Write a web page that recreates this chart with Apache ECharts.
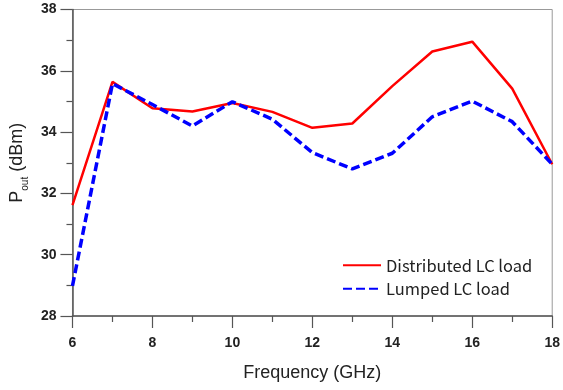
<!DOCTYPE html>
<html><head><meta charset="utf-8">
<script src="https://cdn.jsdelivr.net/npm/echarts@6/dist/echarts.min.js"></script>
<style>html,body{margin:0;padding:0;background:#fff}#c{width:563px;height:390px}</style>
</head><body><div id="c"></div>
<script>
const freq = [6, 7, 8, 9, 10, 11, 12, 13, 14, 15, 16, 17, 18];
const distributed = [31.62, 35.64, 34.78, 34.67, 34.95, 34.66, 34.14, 34.28, 35.5, 36.63, 36.95, 35.42, 32.95];
const lumped = [28.98, 35.58, 34.9, 34.2, 34.99, 34.42, 33.33, 32.8, 33.31, 34.5, 35.01, 34.34, 32.95];
const seriesNames = ['Distributed LC load', 'Lumped LC load'];

const chart = echarts.init(document.getElementById('c'), null, {renderer: 'canvas'});
const axisColor = '#555';
const font = '"Liberation Sans", Arimo, sans-serif';
chart.setOption({
  animation: false,
  grid: {left: 70, right: 9, top: 9.5, bottom: 74, show: true, borderColor: '#999', borderWidth: 1},
  legend: {
    orient: 'vertical', left: 337, top: 252, itemWidth: 38, itemHeight: 12, itemGap: 7,
    itemStyle: {opacity: 0},
    textStyle: {fontSize: 16.5, color: '#222', fontFamily: '"Noto Sans CJK KR", "Noto Sans", sans-serif'},
    data: seriesNames
  },
  xAxis: {
    type: 'value', min: 6, max: 18, interval: 2,
    name: 'Frequency (GHz)', nameLocation: 'middle', nameGap: 48,
    nameTextStyle: {fontSize: 18, color: '#222', fontFamily: font},
    axisLine: {lineStyle: {color: axisColor, width: 1.5}},
    axisTick: {length: 12, lineStyle: {color: axisColor, width: 1.2}},
    minorTick: {show: true, splitNumber: 2, length: 6, lineStyle: {color: axisColor, width: 1.2}},
    splitLine: {show: false},
    axisLabel: {fontSize: 14, fontWeight: 'bold', color: '#222', margin: 20, fontFamily: font}
  },
  yAxis: {
    type: 'value', min: 28, max: 38, interval: 2,
    name: '{p|P}{s|out}{p| (dBm)}', nameLocation: 'middle', nameGap: 40, nameRotate: 90,
    nameTextStyle: {
      color: '#222', fontFamily: font,
      rich: {
        p: {fontSize: 18, color: '#222', fontFamily: font},
        s: {fontSize: 10, color: '#222', fontFamily: font, verticalAlign: 'bottom', padding: [0, 0, -4, 0]}
      }
    },
    axisLine: {show: true, lineStyle: {color: axisColor, width: 1.5}},
    axisTick: {show: true, length: 12, lineStyle: {color: axisColor, width: 1.2}},
    minorTick: {show: true, splitNumber: 2, length: 6, lineStyle: {color: axisColor, width: 1.2}},
    splitLine: {show: false},
    axisLabel: {fontSize: 14, fontWeight: 'bold', color: '#222', margin: 16, fontFamily: font}
  },
  series: [
    {
      name: seriesNames[0], type: 'line', symbol: 'none',
      data: freq.map((f, i) => [f, distributed[i]]),
      lineStyle: {color: '#ff0000', width: 2.5}, itemStyle: {color: '#ff0000'}, z: 2
    },
    {
      name: seriesNames[1], type: 'line', symbol: 'none',
      data: freq.map((f, i) => [f, lumped[i]]),
      lineStyle: {color: '#0000ff', width: 3.5, type: [9, 4]}, itemStyle: {color: '#0000ff'}, z: 3
    }
  ]
});
</script></body></html>
